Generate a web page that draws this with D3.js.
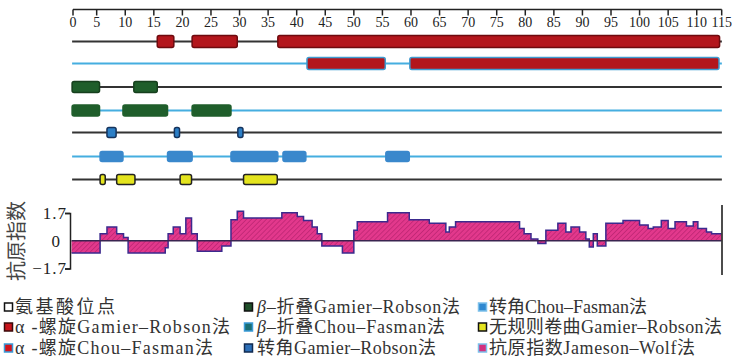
<!DOCTYPE html>
<html>
<head>
<meta charset="utf-8">
<title>二级结构与抗原指数</title>
<style>
  body { margin: 0; background: #fff; }
  svg { display: block; }
  text { font-family: "Liberation Serif", "Noto Sans CJK SC", serif; }
</style>
</head>
<body>
<div id="chart"></div>
<script src="https://cdn.jsdelivr.net/npm/d3@7/dist/d3.min.js"></script>
<script>
// residue ticks on the top axis
var residueTicks = d3.range(0, 116, 5);
var seqStart = 0.7, seqEnd = 114.4;

// secondary structure segments, [start, end] in residues
var helixGR = [[15.6, 18.5], [21.7, 29.6], [36.7, 114.0]];
var helixCF = [[41.8, 55.5], [59.8, 113.9]];
var sheetGR = [[0.7, 5.5], [11.5, 15.6]];
var sheetCF = [[0.7, 5.5], [9.6, 17.4], [21.7, 28.5]];
var turnGR  = [[6.8, 8.4], [18.6, 19.5], [29.7, 30.6]];
var turnCF  = [[5.6, 9.6], [17.4, 21.7], [28.5, 36.7], [37.6, 41.6], [55.6, 59.7]];
var coilGR  = [[5.6, 6.5], [8.5, 11.7], [19.6, 21.6], [30.7, 36.6]];

// Jameson-Wolf antigenic index, step starts and values
var agPos = [0.6, 5.6, 6.8, 8.5, 9.7, 10.5, 17.0, 17.5, 18.4, 19.6, 20.6, 21.6, 22.6, 26.9, 28.5, 29.6,
             30.7, 37.4, 40.1, 41.2, 42.7, 43.6, 44.4, 48.0, 50.0, 50.6, 55.9, 59.7, 63.2, 66.1, 66.7,
             67.8, 79.0, 79.8, 81.0, 82.2, 83.6, 85.7, 87.1, 88.0, 89.5, 90.6, 91.2, 91.9, 92.6, 94.1,
             97.1, 100.0, 101.5, 102.4, 103.8, 105.0, 106.2, 108.2, 109.4, 110.2, 111.7, 112.6];
var agVal = [-0.75, 0.43, 0.85, 0.43, 0.2, -0.75, -0.43, 0.43, 0.85, 0.43, 1.39, 0.43, -0.64, -0.32, 1.28,
             1.81, 1.39, 1.71, 1.49, 1.24, 0.85, 0.43, -0.32, -0.75, 0.64, 1.17, 1.71, 1.28, 1.07, 0.53,
             0.85, 1.17, 0.75, 0.43, 0.11, -0.17, 0.64, 1.07, 0.53, 0.85, 0.53, 0.11, -0.38, 0.43, -0.32,
             1.07, 1.24, 0.96, 0.75, 0.85, 1.24, 0.75, 1.17, 0.9, 1.17, 0.75, 0.53, 0.43];
var agEnd = 114.3;
var agTicks = [1.7, 0, -1.7];

var legendLabels = [
  ["氨基酸位点", "α -螺旋Gamier–Robson法", "α -螺旋Chou–Fasman法"],
  ["β–折叠Gamier–Robson法", "β–折叠Chou–Fasman法", "转角Gamier–Robson法"],
  ["转角Chou–Fasman法", "无规则卷曲Gamier–Robson法", "抗原指数Jameson–Wolf法"]
];

var width = 732, height = 360;
var svg = d3.select("#chart").append("svg")
    .attr("width", width)
    .attr("height", height);

var x = d3.scaleLinear().domain([0, 115]).range([68.1, 725.3]);
// the end ticks sit on the ends of the axis line
var axisL = 73, axisR = 721.7;
function tickX(d) { return Math.max(axisL, Math.min(axisR, x(d))); }

var defs = svg.append("defs");
var pat = defs.append("pattern")
    .attr("id", "hatch")
    .attr("patternUnits", "userSpaceOnUse")
    .attr("width", 3.5).attr("height", 3.5)
    .attr("patternTransform", "rotate(45)");
pat.append("rect").attr("width", 3.5).attr("height", 3.5).attr("fill", "#e2388c");
pat.append("line").attr("x1", 0).attr("y1", 0).attr("x2", 0).attr("y2", 3.5)
    .attr("stroke", "#a81c66").attr("stroke-width", 1);

// top axis
var gAxis = svg.append("g");
gAxis.append("line")
    .attr("x1", axisL).attr("x2", axisR)
    .attr("y1", 9.5).attr("y2", 9.5)
    .attr("stroke", "#222").attr("stroke-width", 1.5);
var tk = gAxis.selectAll(".tick").data(residueTicks).enter().append("g")
    .attr("class", "tick")
    .attr("transform", function(d) { return "translate(" + tickX(d) + ",0)"; });
tk.append("line")
    .attr("y1", 9.5).attr("y2", 15.5)
    .attr("stroke", "#222").attr("stroke-width", 1.5);
tk.append("text")
    .attr("y", 26.5)
    .attr("text-anchor", "middle")
    .style("font-size", "14px")
    .attr("fill", "#222")
    .text(function(d) { return d; });

// tracks
var tracks = [
  { y: 41.5, line: "#333", data: helixGR, fill: "#b3161c", stroke: "#6e0a0e", h: 12 },
  { y: 63.5, line: "#45aee0", data: helixCF, fill: "#b3161c", stroke: "#3f9bd0", h: 12 },
  { y: 87,   line: "#333", data: sheetGR, fill: "#1f5e2b", stroke: "#163f1d", h: 11 },
  { y: 110.5,line: "#45aee0", data: sheetCF, fill: "#1f5e2b", stroke: "#1f5e2b", h: 11 },
  { y: 132.5,line: "#333", data: turnGR, fill: "#2c7fc6", stroke: "#15335c", h: 10 },
  { y: 156.5,line: "#45aee0", data: turnCF, fill: "#3a88cc", stroke: "#3a88cc", h: 10 },
  { y: 179.5,line: "#333", data: coilGR, fill: "#e4e41e", stroke: "#222", h: 10 }
];

tracks.forEach(function(t) {
  var g = svg.append("g");
  g.append("line")
    .attr("x1", x(seqStart)).attr("x2", x(seqEnd))
    .attr("y1", t.y).attr("y2", t.y)
    .attr("stroke", t.line).attr("stroke-width", 2);
  g.selectAll("rect").data(t.data).enter().append("rect")
    .attr("x", function(d) { return x(d[0]); })
    .attr("width", function(d) { return x(d[1]) - x(d[0]); })
    .attr("y", t.y - t.h / 2)
    .attr("height", t.h)
    .attr("rx", 2)
    .attr("fill", t.fill)
    .attr("stroke", t.stroke)
    .attr("stroke-width", 1.5);
});

// antigenic index panel
var y = d3.scaleLinear().domain([-1.7, 1.7]).range([268.5, 213]);
var agData = agPos.map(function(p, i) { return { p: p, v: agVal[i] }; });
agData.push({ p: agEnd, v: agVal[agVal.length - 1] });

var area = d3.area()
    .curve(d3.curveStepAfter)
    .x(function(d) { return x(d.p); })
    .y0(y(0))
    .y1(function(d) { return y(d.v); });
var line = d3.line()
    .curve(d3.curveStepAfter)
    .x(function(d) { return x(d.p); })
    .y(function(d) { return y(d.v); });

svg.append("path").datum(agData)
    .attr("d", area)
    .attr("fill", "url(#hatch)");
svg.append("path").datum(agData)
    .attr("d", line)
    .attr("fill", "none")
    .attr("stroke", "#3b2a8e")
    .attr("stroke-width", 1.5);
svg.append("line")
    .attr("x1", x(agPos[0])).attr("x2", x(agEnd))
    .attr("y1", y(0)).attr("y2", y(0))
    .attr("stroke", "#3a2450").attr("stroke-width", 1.5);

// left bracket axis
var axisLeft = d3.axisLeft(y).tickValues(agTicks).tickSize(5).tickSizeOuter(5)
    .tickFormat(function(d) { return d === 0 ? "0" : d3.format(".1f")(d); });
var gLeft = svg.append("g").attr("transform", "translate(70,0)").call(axisLeft);
gLeft.select(".domain").attr("stroke", "#222").attr("stroke-width", 1.5);
gLeft.selectAll(".tick line").attr("stroke", function(d) { return d === 0 ? "none" : "#222"; })
    .attr("stroke-width", 1.5);
gLeft.selectAll(".tick text")
    .attr("x", function(d) { return d === 0 ? -9 : -3; })
    .style("font-family", "Liberation Serif")
    .style("font-size", "17px")
    .style("letter-spacing", "1px")
    .attr("fill", "#222");

// right border of the panel
svg.append("line")
    .attr("x1", 722).attr("x2", 722)
    .attr("y1", 205).attr("y2", 275)
    .attr("stroke", "#111").attr("stroke-width", 1.5);

svg.append("text")
    .attr("transform", "translate(24,241) rotate(-90)")
    .attr("text-anchor", "middle")
    .style("font-family", "Noto Sans CJK SC")
    .style("font-size", "20px")
    .attr("fill", "#444")
    .text("抗原指数");

// legend
var markers = [
  [{ f: "#fff", s: "#111" }, { f: "#c8141c", s: "#3a0a0a" }, { f: "#d3141c", s: "#3a9bd8" }],
  [{ f: "#1f4f2a", s: "#111" }, { f: "#1b6f74", s: "#3a9bd8" }, { f: "#2c6fb8", s: "#102a50" }],
  [{ f: "#2e88d0", s: "#7cc0ea" }, { f: "#e4e41e", s: "#111" }, { f: "#d2307e", s: "#7cc0ea" }]
];
var colX = [4, 244, 478];
var rowY = [307, 327, 348];
// right end of each legend label
var labelEnd = [[115, 230, 213], [460, 445, 436], [646, 722, 695]];

var legend = svg.append("g").attr("class", "legend");
legendLabels.forEach(function(col, ci) {
  col.forEach(function(label, ri) {
    var g = legend.append("g").attr("transform", "translate(" + colX[ci] + "," + rowY[ri] + ")");
    g.append("rect")
      .attr("x", 0.5).attr("y", -4)
      .attr("width", 8).attr("height", 8)
      .attr("fill", markers[ci][ri].f)
      .attr("stroke", markers[ci][ri].s)
      .attr("stroke-width", 1.5);
    var tx = ci === 1 ? 13 : 11;
    var t = g.append("text")
      .attr("x", tx).attr("y", 6)
      .style("font-size", "18px")
      .attr("fill", "#333");
    if (label.charAt(0) === "β") {
      t.append("tspan").style("font-style", "italic").text("β");
      t.append("tspan").text(label.slice(1));
    } else {
      t.text(label);
    }
    var want = labelEnd[ci][ri] - colX[ci] - tx;
    if (t.node().getComputedTextLength() < want) t.attr("textLength", want);
  });
});
</script>
</body>
</html>
